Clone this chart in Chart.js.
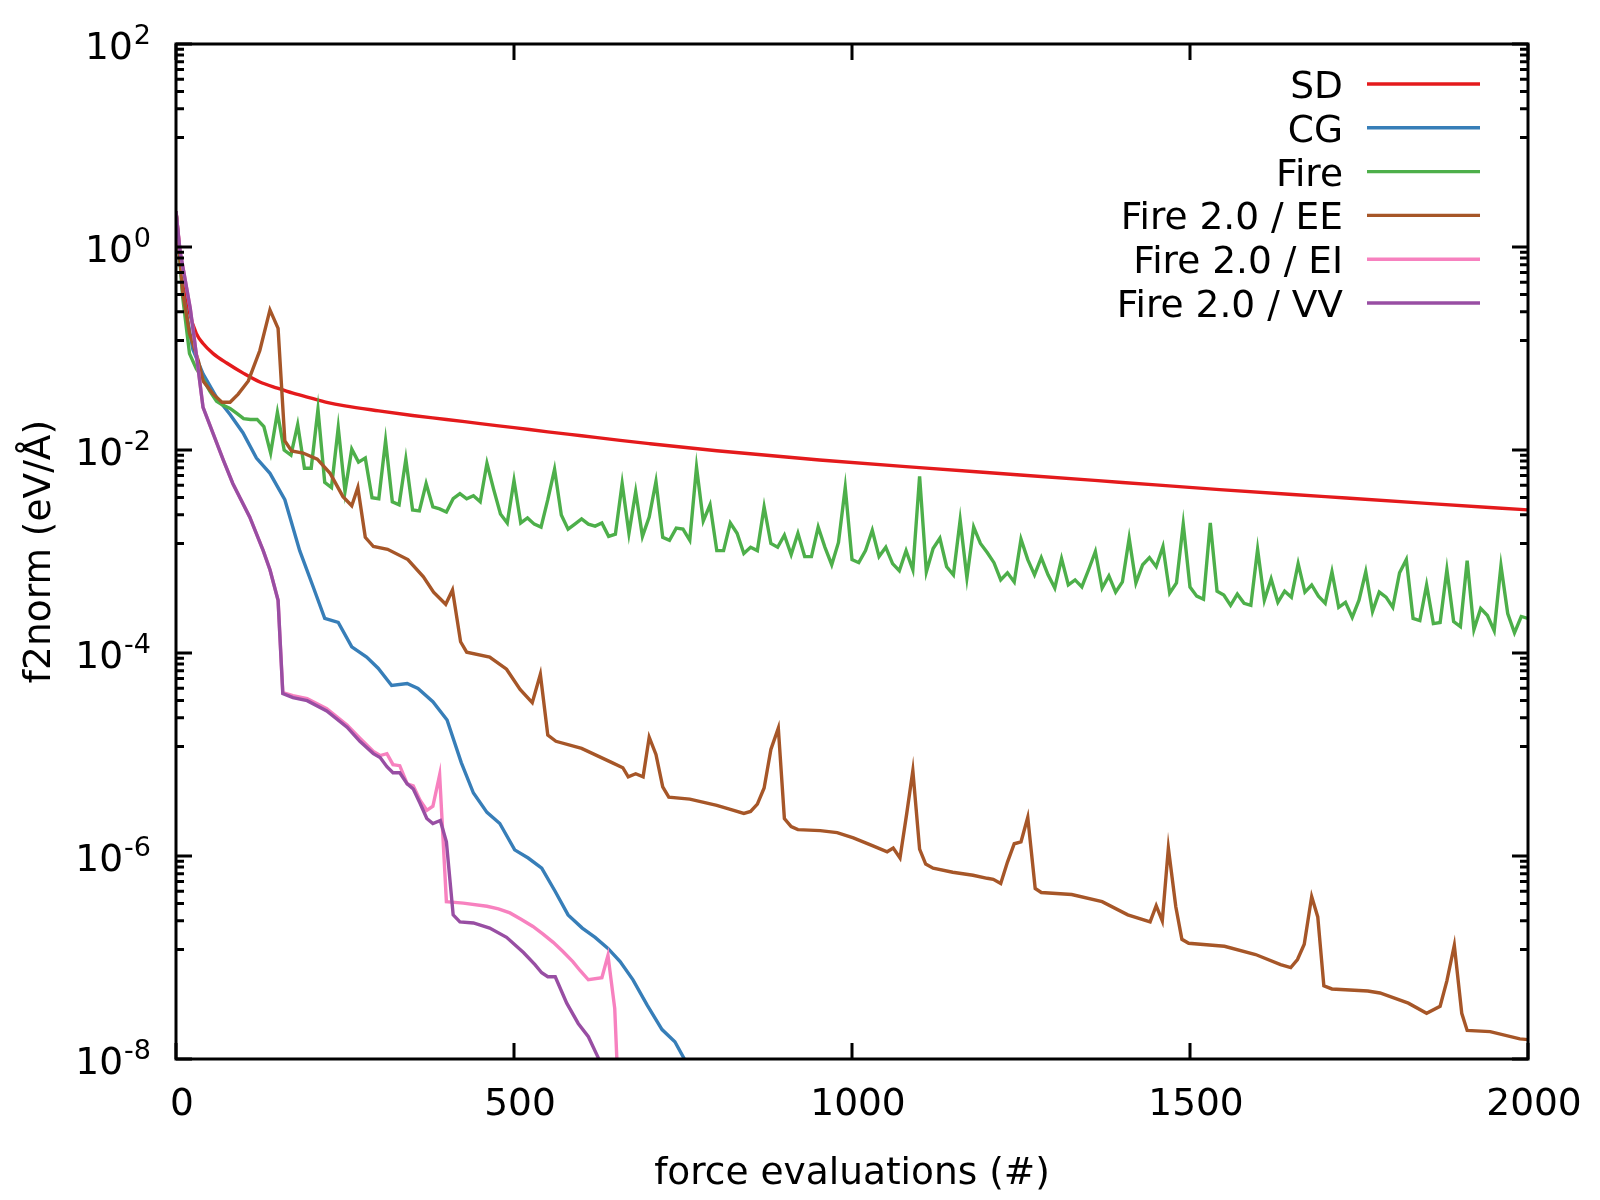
<!DOCTYPE html>
<html>
<head>
<meta charset="utf-8">
<script src="https://cdn.jsdelivr.net/npm/chart.js@4.4.0/dist/chart.umd.min.js"></script>
<style>
html,body{margin:0;padding:0;background:#fff;}
#wrap{width:1600px;height:1200px;}
</style>
</head>
<body>
<div id="wrap"><canvas id="c" width="1600" height="1200"></canvas></div>
<script>
// ---------------- data ----------------
const seriesLabels = ['SD', 'CG', 'Fire', 'Fire 2.0 / EE', 'Fire 2.0 / EI', 'Fire 2.0 / VV'];

const sdX = [0,10,20,30,40,55,75,100,124,150,173,200,223,250,300,350,400,450,500,550,600,657,700,800,952,1100,1249,1400,1544,1700,1850,2000];
const sdY = [2.24,0.501,0.224,0.141,0.112,8.91e-2,7.19e-2,5.69e-2,4.68e-2,4.07e-2,3.63e-2,3.24e-2,2.95e-2,2.72e-2,2.43e-2,2.19e-2,2.00e-2,1.82e-2,1.66e-2,1.51e-2,1.38e-2,1.245e-2,1.156e-2,9.84e-3,7.98e-3,6.70e-3,5.68e-3,4.79e-3,4.07e-3,3.47e-3,2.98e-3,2.57e-3];

const cgX = [0,10,25,40,60,80,99,119,139,161,183,203,220,240,260,282,299,319,342,358,380,401,422,440,460,479,501,521,541,561,580,601,620,639,657,676,697,719,738,752,765];
const cgY = [2.24,0.355,9.77e-2,5.62e-2,3.31e-2,2.24e-2,1.48e-2,8.32e-3,5.89e-3,3.24e-3,
  1.02e-3,4.47e-4,2.19e-4,2.00e-4,1.15e-4,9.12e-5,7.08e-5,4.79e-5,5.01e-5,4.47e-5,
  3.31e-5,2.19e-5,8.32e-6,4.17e-6,2.69e-6,2.09e-6,1.15e-6,9.55e-7,7.59e-7,4.47e-7,
  2.63e-7,1.95e-7,1.58e-7,1.23e-7,9.12e-8,6.03e-8,3.39e-8,1.95e-8,1.48e-8,1.0e-8,6.31e-9];

const fireX = [0,10,20,30,40,50,60,70,80,90,
  100,110,120,130,140,150,160,170,180,190,
  200,210,220,230,240,250,260,270,280,290,
  300,310,320,330,340,350,360,370,380,390,
  400,410,420,430,440,450,460,470,480,490,
  500,510,520,530,540,550,560,570,580,590,
  600,610,620,630,640,650,660,670,680,690,
  700,710,720,730,740,750,760,770,780,790,
  800,810,820,830,840,850,860,870,880,890,
  900,910,920,930,940,950,960,970,980,990,
  1000,1010,1020,1030,1040,1050,1060,1070,1080,1090,
  1100,1110,1120,1130,1140,1150,1160,1170,1180,1190,
  1200,1210,1220,1230,1240,1250,1260,1270,1280,1290,
  1300,1310,1320,1330,1340,1350,1360,1370,1380,1390,
  1400,1410,1420,1430,1440,1450,1460,1470,1480,1490,
  1500,1510,1520,1530,1540,1550,1560,1570,1580,1590,
  1600,1610,1620,1630,1640,1650,1660,1670,1680,1690,
  1700,1710,1720,1730,1740,1750,1760,1770,1780,1790,
  1800,1810,1820,1830,1840,1850,1860,1870,1880,1890,
  1900,1910,1920,1930,1940,1950,1960,1970,1980,1990,
  2000];
const fireY = [2.24,0.316,8.91e-2,6.31e-2,5.01e-2,3.80e-2,3.02e-2,2.75e-2,2.57e-2,2.29e-2,
  2.04e-2,2.00e-2,2.00e-2,1.70e-2,9.33e-3,2.34e-2,1.00e-2,8.91e-3,1.78e-2,6.61e-3,
  6.61e-3,2.51e-2,4.79e-3,4.27e-3,1.66e-2,3.89e-3,1.02e-2,7.59e-3,8.32e-3,3.39e-3,
  3.31e-3,1.23e-2,3.09e-3,2.88e-3,8.13e-3,2.57e-3,2.51e-3,4.68e-3,2.75e-3,2.63e-3,
  2.45e-3,3.31e-3,3.72e-3,3.31e-3,3.55e-3,3.09e-3,7.41e-3,4.07e-3,2.34e-3,1.91e-3,
  5.01e-3,1.91e-3,2.14e-3,1.86e-3,1.74e-3,3.24e-3,6.46e-3,2.29e-3,1.66e-3,1.86e-3,
  2.09e-3,1.86e-3,1.78e-3,1.91e-3,1.41e-3,1.48e-3,4.68e-3,1.51e-3,3.89e-3,1.41e-3,
  2.19e-3,4.90e-3,1.38e-3,1.29e-3,1.70e-3,1.66e-3,1.29e-3,6.76e-3,2.00e-3,2.88e-3,
  1.02e-3,1.02e-3,1.91e-3,1.51e-3,9.55e-4,1.10e-3,1.02e-3,2.75e-3,1.20e-3,1.10e-3,
  1.45e-3,9.33e-4,1.51e-3,8.91e-4,8.91e-4,1.74e-3,1.10e-3,7.41e-4,1.23e-3,4.27e-3,
  8.32e-4,7.76e-4,1.02e-3,1.62e-3,8.91e-4,1.10e-3,7.59e-4,6.46e-4,1.02e-3,6.61e-4,
  5.50e-3,6.31e-4,1.07e-3,1.35e-3,7.08e-4,5.89e-4,2.04e-3,5.50e-4,1.74e-3,1.20e-3,
  9.77e-4,7.76e-4,5.25e-4,6.17e-4,5.01e-4,1.32e-3,8.32e-4,5.89e-4,8.71e-4,5.89e-4,
  4.37e-4,8.51e-4,4.68e-4,5.25e-4,4.47e-4,6.61e-4,1.00e-3,4.37e-4,5.75e-4,3.98e-4,
  5.01e-4,1.35e-3,4.90e-4,7.41e-4,8.71e-4,7.08e-4,1.12e-3,3.89e-4,4.90e-4,1.86e-3,
  4.47e-4,3.63e-4,3.39e-4,1.91e-3,4.07e-4,3.72e-4,2.95e-4,3.80e-4,3.09e-4,2.95e-4,
  1.05e-3,3.31e-4,5.37e-4,3.16e-4,4.07e-4,3.55e-4,7.59e-4,3.98e-4,4.68e-4,3.63e-4,
  3.09e-4,6.31e-4,2.82e-4,3.16e-4,2.24e-4,3.31e-4,6.31e-4,2.57e-4,3.98e-4,3.55e-4,
  2.82e-4,6.17e-4,8.32e-4,2.19e-4,2.09e-4,4.68e-4,1.95e-4,2.00e-4,6.61e-4,2.04e-4,
  1.82e-4,8.13e-4,1.70e-4,2.75e-4,2.34e-4,1.66e-4,7.24e-4,2.45e-4,1.58e-4,2.29e-4,
  2.19e-4];

const eeX = [0,10,20,33,40,55,68,80,92,107,
  124,139,151,161,171,188,209,228,247,260,
  269,280,292,313,343,366,381,399,409,421,
  430,464,489,509,527,539,550,562,600,645,
  661,669,680,691,700,710,720,729,760,800,
  820,840,850,860,870,880,891,900,910,920,
  953,978,1002,1031,1052,1061,1071,1081,1090,1100,
  1109,1120,1149,1179,1200,1209,1220,1230,1240,1250,
  1260,1271,1280,1325,1370,1408,1441,1450,1459,1468,
  1479,1488,1498,1551,1597,1634,1649,1659,1669,1680,
  1689,1698,1710,1763,1781,1823,1850,1870,1880,1891,
  1902,1910,1944,1988,2000];
const eeY = [2.24,0.355,0.141,7.59e-2,4.79e-2,3.55e-2,2.95e-2,2.95e-2,3.55e-2,4.79e-2,
  9.55e-2,0.240,0.158,1.23e-2,9.77e-3,9.33e-3,8.13e-3,5.89e-3,3.47e-3,2.82e-3,
  4.27e-3,1.38e-3,1.12e-3,1.05e-3,8.32e-4,5.62e-4,3.98e-4,3.02e-4,4.17e-4,1.29e-4,
  1.02e-4,9.12e-5,6.92e-5,4.37e-5,3.24e-5,6.17e-5,1.55e-5,1.35e-5,1.15e-5,8.32e-6,
  7.41e-6,6.03e-6,6.46e-6,6.03e-6,1.48e-5,1.00e-5,4.79e-6,3.80e-6,3.63e-6,3.16e-6,
  2.88e-6,2.63e-6,2.75e-6,3.24e-6,4.68e-6,1.12e-5,1.82e-5,2.34e-6,1.95e-6,1.82e-6,
  1.78e-6,1.70e-6,1.51e-6,1.26e-6,1.10e-6,1.20e-6,9.55e-7,2.63e-6,6.92e-6,1.17e-6,
  8.32e-7,7.59e-7,6.92e-7,6.46e-7,6.03e-7,5.89e-7,5.37e-7,8.71e-7,1.32e-6,1.38e-6,
  2.40e-6,4.79e-7,4.37e-7,4.17e-7,3.55e-7,2.63e-7,2.24e-7,3.24e-7,2.29e-7,1.20e-6,
  3.16e-7,1.51e-7,1.38e-7,1.29e-7,1.07e-7,8.51e-8,7.94e-8,9.55e-8,1.35e-7,3.98e-7,
  2.51e-7,5.25e-8,4.90e-8,4.68e-8,4.47e-8,3.55e-8,2.82e-8,3.31e-8,5.89e-8,1.32e-7,
  2.82e-8,1.91e-8,1.86e-8,1.58e-8,1.55e-8];

const eiX = [0,6,21,28,40,70,84,109,129,139,
  151,158,173,194,223,253,272,292,302,312,
  321,331,342,351,361,371,380,390,400,425,
  460,477,494,511,528,543,558,572,587,598,
  610,630,639,649,652,655];
const eiY = [2.24,0.912,0.251,0.112,2.63e-2,7.94e-3,4.68e-3,2.19e-3,1.02e-3,6.61e-4,
  3.31e-4,4.07e-5,3.80e-5,3.55e-5,2.82e-5,1.95e-5,1.45e-5,1.07e-5,9.77e-6,1.02e-5,
  7.94e-6,7.76e-6,5.13e-6,4.90e-6,3.55e-6,2.82e-6,3.09e-6,6.31e-6,3.55e-7,3.43e-7,
  3.20e-7,3.02e-7,2.75e-7,2.37e-7,2.02e-7,1.70e-7,1.41e-7,1.15e-7,9.12e-8,7.41e-8,
  6.03e-8,6.31e-8,1.05e-7,3.16e-8,1.05e-8,6.0e-9];

const vvX = [0,6,21,28,40,70,84,109,129,139,
  151,158,173,194,223,253,272,292,302,312,
  321,331,342,351,361,371,380,391,400,410,
  420,440,464,489,514,531,541,550,561,578,
  595,610,624,635];
const vvY = [2.24,0.912,0.251,0.112,2.63e-2,7.94e-3,4.68e-3,2.19e-3,1.02e-3,6.61e-4,
  3.31e-4,3.98e-5,3.63e-5,3.39e-5,2.69e-5,1.86e-5,1.35e-5,1.02e-5,9.33e-6,7.59e-6,
  6.61e-6,6.61e-6,5.13e-6,4.57e-6,3.31e-6,2.34e-6,2.09e-6,2.24e-6,1.38e-6,2.63e-7,
  2.24e-7,2.19e-7,1.95e-7,1.58e-7,1.12e-7,8.51e-8,7.08e-8,6.46e-8,6.46e-8,3.55e-8,
  2.24e-8,1.66e-8,1.05e-8,7.08e-9];

const xTickValues = [0, 500, 1000, 1500, 2000];
const yTickValues = [1e-8, 1e-6, 1e-4, 1e-2, 1e0, 1e2];
const yTickExponents = ['-8', '-6', '-4', '-2', '0', '2'];
const yMinorFactors = [12, 23, 34, 45, 56, 67, 78, 89];

const xTitle = 'force evaluations (#)';
const yTitle = 'f2norm (eV/\u00C5)';

// ---------------- styles ----------------
const FAM = '"DejaVu Sans", sans-serif';
const FS = 37.5;
const seriesColors = ['#e41a1c', '#377eb8', '#4daf4a', '#a65628', '#f781bf', '#984ea3'];
const seriesXs = [sdX, cgX, fireX, eeX, eiX, vvX];
const seriesYs = [sdY, cgY, fireY, eeY, eiY, vvY];

const pairs = (xs, ys) => xs.map((v, i) => ({x: v, y: ys[i]}));

const datasets = seriesLabels.map((lab, i) => ({
  label: lab,
  data: pairs(seriesXs[i], seriesYs[i]),
  borderColor: seriesColors[i],
  backgroundColor: seriesColors[i],
  borderWidth: 3.4,
  pointRadius: 0,
  pointHoverRadius: 0,
  fill: false,
  tension: 0,
  cubicInterpolationMode: i === 0 ? 'monotone' : 'default',
  order: seriesLabels.length - i
}));

const decorPlugin = {
  id: 'decor',
  afterDraw(chart) {
    const {ctx, chartArea: a, scales} = chart;
    const xs = scales.x, ys = scales.y;
    ctx.save();
    // frame
    ctx.strokeStyle = '#000';
    ctx.lineWidth = 3;
    ctx.lineCap = 'butt';
    ctx.strokeRect(a.left, a.top, a.right - a.left, a.bottom - a.top);
    // ticks
    ctx.beginPath();
    const MAJ = 16, MIN = 8;
    xTickValues.forEach(v => {
      const px = xs.getPixelForValue(v);
      ctx.moveTo(px, a.bottom); ctx.lineTo(px, a.bottom - MAJ);
      ctx.moveTo(px, a.top); ctx.lineTo(px, a.top + MAJ);
    });
    yTickValues.forEach(v => {
      const py = ys.getPixelForValue(v);
      ctx.moveTo(a.left, py); ctx.lineTo(a.left + MAJ, py);
      ctx.moveTo(a.right, py); ctx.lineTo(a.right - MAJ, py);
    });
    for (let i = 0; i < yTickValues.length - 1; i++) {
      const base = yTickValues[i];
      yMinorFactors.forEach(f => {
        const py = ys.getPixelForValue(base * f);
        ctx.moveTo(a.left, py); ctx.lineTo(a.left + MIN, py);
        ctx.moveTo(a.right, py); ctx.lineTo(a.right - MIN, py);
      });
    }
    ctx.stroke();

    // y tick labels 10^n
    ctx.fillStyle = '#000';
    ctx.textBaseline = 'alphabetic';
    ctx.textAlign = 'right';
    const rightEdge = a.left - 25;
    yTickValues.forEach((v, i) => {
      const py = ys.getPixelForValue(v);
      ctx.font = '27px ' + FAM;
      const e = yTickExponents[i];
      ctx.fillText(e, rightEdge, py);
      const ew = ctx.measureText(e).width;
      ctx.font = FS + 'px ' + FAM;
      ctx.fillText('10', rightEdge - ew - 1, py + 15);
    });

    // legend
    const textRight = a.right - 185;
    const l1 = a.right - 161, l2 = a.right - 48;
    chart.data.datasets.forEach((d, i) => {
      const yy = a.top + 40 + i * 43.8;
      ctx.strokeStyle = d.borderColor;
      ctx.lineWidth = 3.4;
      ctx.beginPath();
      ctx.moveTo(l1, yy); ctx.lineTo(l2, yy);
      ctx.stroke();
      ctx.fillStyle = '#000';
      ctx.font = FS + 'px ' + FAM;
      ctx.textAlign = 'right';
      ctx.fillText(d.label, textRight, yy + 14);
    });
    ctx.restore();
  }
};

new Chart(document.getElementById('c'), {
  type: 'line',
  data: {datasets},
  options: {
    responsive: false,
    animation: false,
    devicePixelRatio: 1,
    events: [],
    layout: {padding: {top: 44, right: 72, bottom: 0, left: 0}},
    plugins: {legend: {display: false}, tooltip: {enabled: false}},
    scales: {
      x: {
        type: 'linear',
        min: 0, max: 2000,
        afterBuildTicks: s => { s.ticks = xTickValues.map(v => ({value: v})); },
        afterFit: s => { s.height = 141; s.paddingLeft = 0; s.paddingRight = 0; },
        grid: {display: false, drawTicks: false},
        border: {display: false},
        ticks: {
          font: {size: FS, family: FAM},
          color: '#000',
          padding: 24,
          labelOffset: 6,
          maxRotation: 0,
          autoSkip: false,
          callback: v => String(v)
        },
        title: {
          display: true,
          text: xTitle,
          font: {size: FS, family: FAM},
          color: '#000',
          padding: {top: 0, bottom: 3}
        }
      },
      y: {
        type: 'logarithmic',
        min: 1e-8, max: 1e2,
        afterFit: s => { s.width = 176; s.paddingTop = 0; s.paddingBottom = 0; },
        grid: {display: false, drawTicks: false},
        border: {display: false},
        ticks: {display: false},
        title: {
          display: true,
          text: yTitle,
          font: {size: FS, family: FAM},
          color: '#000',
          padding: {top: 18, bottom: 0}
        }
      }
    }
  },
  plugins: [decorPlugin]
});
</script>
</body>
</html>
